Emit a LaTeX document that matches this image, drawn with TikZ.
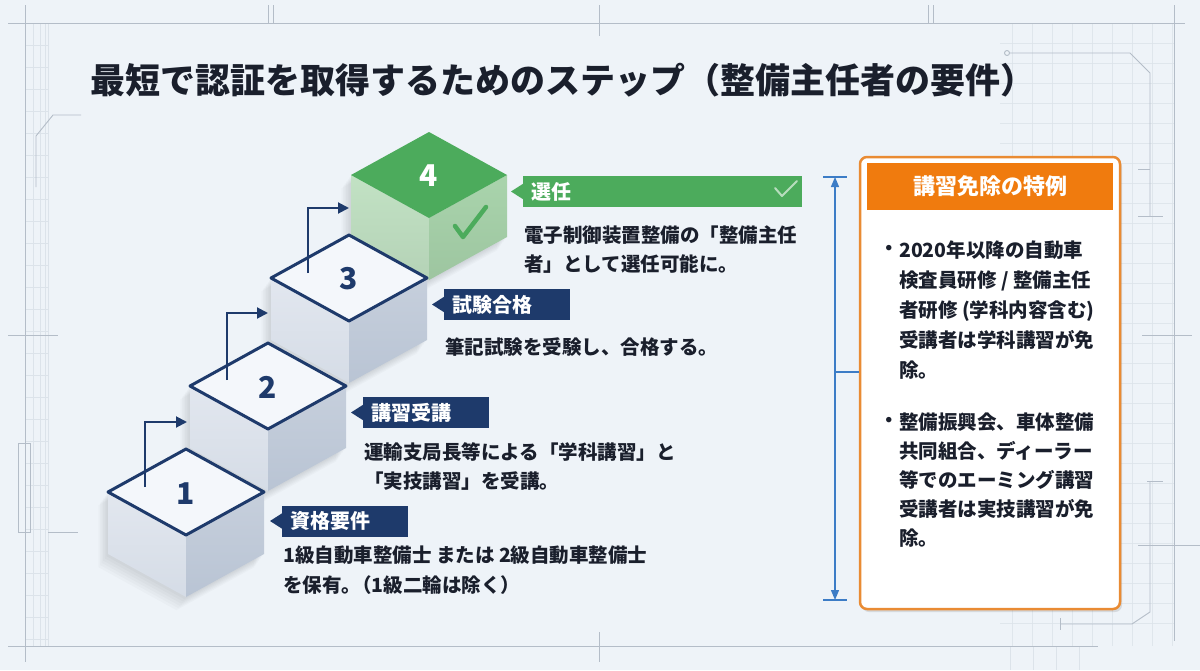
\documentclass[tikz,border=0pt]{standalone}
\usepackage{fontspec}
\setmainfont{Noto Sans CJK JP}
\usetikzlibrary{arrows.meta,shadows,calc}
\definecolor{bg}{HTML}{EEF3F8}
\definecolor{navy}{HTML}{1E3A6B}
\definecolor{ink}{HTML}{1A1F2C}
\definecolor{grn}{HTML}{4CAB5C}
\definecolor{grnL}{HTML}{C2E2C4}
\definecolor{grnR}{HTML}{A9D4AC}
\definecolor{orng}{HTML}{F07B0E}
\definecolor{orngB}{HTML}{E98B33}
\definecolor{dimblue}{HTML}{3C7CC6}
\definecolor{deco}{HTML}{B4BDC8}
\definecolor{gridc}{HTML}{DCE3EA}
\definecolor{faceL}{HTML}{E2E7EF}
\definecolor{faceLb}{HTML}{D5DCE6}
\definecolor{faceR}{HTML}{C6CFDC}
\definecolor{faceRb}{HTML}{B9C4D4}
\definecolor{topc}{HTML}{F4F7FB}

\newcommand\stepcube[8]{% x, y, top, left, leftbottom, right, rightbottom, outline
\begin{scope}[shift={(#1,#2)}]
  \foreach \k in {1,...,6}
    \fill[black,opacity=0.018] ($(-78,0)+(-1.6*\k,2.2*\k)$) -- ($(0,-43)+(-1.6*\k,2.2*\k)$) -- ($(78,0)+(-1.6*\k,2.2*\k)$)
      -- ($(78,62)+(-1.6*\k,2.2*\k)$) -- ($(0,105)+(-1.6*\k,2.2*\k)$) -- ($(-78,62)+(-1.6*\k,2.2*\k)$) -- cycle;
  \shade[top color=#4, bottom color=#5] (-78,0) -- (0,43) -- (0,105) -- (-78,62) -- cycle;
  \shade[top color=#6, bottom color=#7] (0,43) -- (78,0) -- (78,62) -- (0,105) -- cycle;
  \filldraw[fill=#3, draw=#8, line width=3pt, line join=round] (-78,0) -- (0,-43) -- (78,0) -- (0,43) -- cycle;
\end{scope}}

\tikzset{
  arr/.style={draw=navy, line width=2pt, -{Triangle[length=11pt,width=11pt]}},
  tagbox/.style={fill=navy, text=white, anchor=west, minimum height=31pt, inner xsep=8pt, inner ysep=0pt, align=left, font=\fontsize{20}{24}\selectfont\bfseries},
  body/.style={anchor=base west, inner sep=0pt, text=ink, font=\fontsize{19.5}{24}\selectfont\bfseries},
  num/.style={text=navy, font=\fontsize{30}{34}\selectfont\bfseries},
  decoline/.style={draw=deco, line width=0.9pt},
  gridline/.style={draw=gridc, line width=0.5pt},
  dim/.style={draw=dimblue, line width=1.3pt},
}

\begin{document}
\begin{tikzpicture}[x=1pt,y=-1pt]
\useasboundingbox (0,0) rectangle (1200,670);
\fill[bg] (0,0) rectangle (1200,670);

% ---------- background decoration ----------
\foreach \x in {25,33,40,45,48} \draw[gridline] (\x,23) -- (\x,646);
\foreach \y in {45,67,...,640} \draw[gridline] (25,\y) -- (48,\y);
\foreach \x in {1012,1032,...,1172} \draw[gridline,opacity=0.8] (\x,23) -- (\x,646);
\foreach \y in {43,63,...,640} \draw[gridline,opacity=0.8] (1000,\y) -- (1174,\y);
\foreach \x in {1010,1033,1056,1079} \draw[gridline] (\x,646) -- (\x,670);

\draw[decoline] (8,23) -- (1185,23);
\draw[decoline] (8,646) -- (1098,646);
\draw[decoline] (25,5) -- (25,662);
\draw[decoline] (1174,5) -- (1174,641);
\draw[decoline] (268,5) -- (268,23);
\draw[decoline] (273,5) -- (273,23);
\draw[decoline] (599,5) -- (599,36);
\draw[decoline] (928,5) -- (928,23);
\draw[decoline] (933,5) -- (933,23);
\draw[decoline] (599,632) -- (599,662);
\draw[decoline] (81,115) -- (53,115) -- (36,136) -- (36,187);
\draw[decoline] (8,335) -- (58,335);
\draw[decoline] (18,443) rectangle (30,532);
\draw[decoline] (48,532) -- (78,532);
\draw[decoline] (1009.5,53) -- (1130,53) -- (1150,73) -- (1150,216);
\draw[decoline] (1007,53) circle (2.5);
\draw[decoline] (1138,169) -- (1150,169);
\draw[decoline] (1138,216) -- (1163,216);
\draw[decoline] (1142,335) -- (1192,335);
\draw[decoline] (1147,481) -- (1163,481);
\draw[decoline] (1150,481) -- (1150,612) -- (1132,624) -- (1060,624);
\draw[decoline] (1060,618) -- (1060,630);
\draw[decoline] (1138,545) -- (1200,545);

% ---------- title ----------
\node[anchor=base west, inner sep=0pt, text=ink, font=\fontsize{35}{40}\selectfont\bfseries] (title) at (90,93) {最短で認証を取得するためのステップ（整備主任者の要件）};

% ---------- cubes ----------
\stepcube{429}{175}{grn}{grnL}{grnL!93!black}{grnR}{grnR!93!black}{none}
\stepcube{349}{278}{topc}{faceL}{faceLb}{faceR}{faceRb}{navy}
\stepcube{268}{386}{topc}{faceL}{faceLb}{faceR}{faceRb}{navy}
\stepcube{186}{492}{topc}{faceL}{faceLb}{faceR}{faceRb}{navy}

\node[num, text=white] (n4) at (429,176) {4};
\node[num] (n3) at (349,279) {3};
\node[num] (n2) at (268,387) {2};
\node[num] (n1) at (186,494) {1};

\coordinate (ck1) at (455,226);
\coordinate (ck2) at (463,237);
\coordinate (ck3) at (486,207);
\draw[grn, line width=4.5pt, line cap=round, line join=round] (ck1) -- (ck2) -- (ck3);

% ---------- step arrows ----------
\coordinate (a1s) at (145,487); \coordinate (a1e) at (187,422);
\coordinate (a2s) at (227,380); \coordinate (a2e) at (268,313);
\coordinate (a3s) at (308,273); \coordinate (a3e) at (349,208);
\draw[arr] (a1s) |- (a1e);
\draw[arr] (a2s) |- (a2e);
\draw[arr] (a3s) |- (a3e);

% ---------- tags ----------
\node[tagbox, text width=110pt] (t1) at (282,521) {資格要件};
\node[tagbox, text width=110pt] (t2) at (363,412.5) {講習受講};
\node[tagbox, text width=110pt] (t3) at (444,304.5) {試験合格};
\node[tagbox, fill=grn, text width=263pt] (t4) at (523,191.5) {選任};
\foreach \t/\c in {t1/navy,t2/navy,t3/navy,t4/grn}
  \fill[\c] ($(\t.west)+(-12,0)$) -- ($(\t.west)+(0.5,-8)$) -- ($(\t.west)+(0.5,8)$) -- cycle;
\coordinate (tk1) at (775,188);
\coordinate (tk2) at (782,196);
\coordinate (tk3) at (797,181);
\draw[white, opacity=0.6, line width=2pt, line cap=round, line join=round] (tk1) -- (tk2) -- (tk3);

% ---------- step texts ----------
\node[body] (b1a) at (283,562) {1級自動車整備士 または 2級自動車整備士};
\node[body] (b1b) at (283,592) {を保有。\hspace{-0.45em}（1級二輪は除く）};
\node[body] (b2a) at (364,459) {運輸支局長等による「学科講習」と};
\node[body] (b2b) at (364,488) {「実技講習」を受講。};
\node[body] (b3a) at (445,354) {筆記試験を受験し、合格する。};
\node[body] (b4a) at (524,242) {電子制御装置整備の「整備主任};
\node[body] (b4b) at (524,271) {者」として選任可能に。};

% ---------- right panel ----------
\node[draw=orngB, line width=2.5pt, fill=white, rounded corners=7pt, minimum width=260pt, minimum height=452pt,
      drop shadow={shadow xshift=2pt, shadow yshift=-3pt, opacity=0.18, fill=black!60}] (panel) at (990,383) {};
\node[fill=orng, minimum width=246pt, minimum height=47pt, inner sep=0pt, text=white,
      font=\fontsize{22}{26}\selectfont\bfseries] (hdr) at (990,186.5) {講習免除の特例};

\node[text=ink, font=\fontsize{19.5}{24}\selectfont\bfseries, inner sep=0pt] (bu1) at (889,250) {・};
\node[body] (p1a) at (899,257) {2020年以降の自動車};
\node[body] (p1b) at (899,287) {検査員研修 / 整備主任};
\node[body] (p1c) at (899,317) {者研修 (学科内容含む)};
\node[body] (p1d) at (899,347) {受講者は学科講習が免};
\node[body] (p1e) at (899,377) {除。};
\node[text=ink, font=\fontsize{19.5}{24}\selectfont\bfseries, inner sep=0pt] (bu2) at (889,422) {・};
\node[body] (p2a) at (899,429) {整備振興会、車体整備};
\node[body] (p2b) at (899,458) {共同組合、ディーラー};
\node[body] (p2c) at (899,487) {等でのエーミング講習};
\node[body] (p2d) at (899,516) {受講者は実技講習が免};
\node[body] (p2e) at (899,545) {除。};

% ---------- dimension line ----------
\coordinate (dimT) at (835,177);
\coordinate (dimB) at (835,600);
\coordinate (dimM) at (835,372);
\draw[dim, {Triangle[length=10pt,width=8pt]}-{Triangle[length=10pt,width=8pt]}] (dimT) -- (dimB);
\draw[dim] ($(dimT)+(-12,0)$) -- ($(dimT)+(12,0)$);
\draw[dim] ($(dimB)+(-12,0)$) -- ($(dimB)+(12,0)$);
\draw[dim] (dimM) -- (panel.west |- dimM);
\end{tikzpicture}
\end{document}
